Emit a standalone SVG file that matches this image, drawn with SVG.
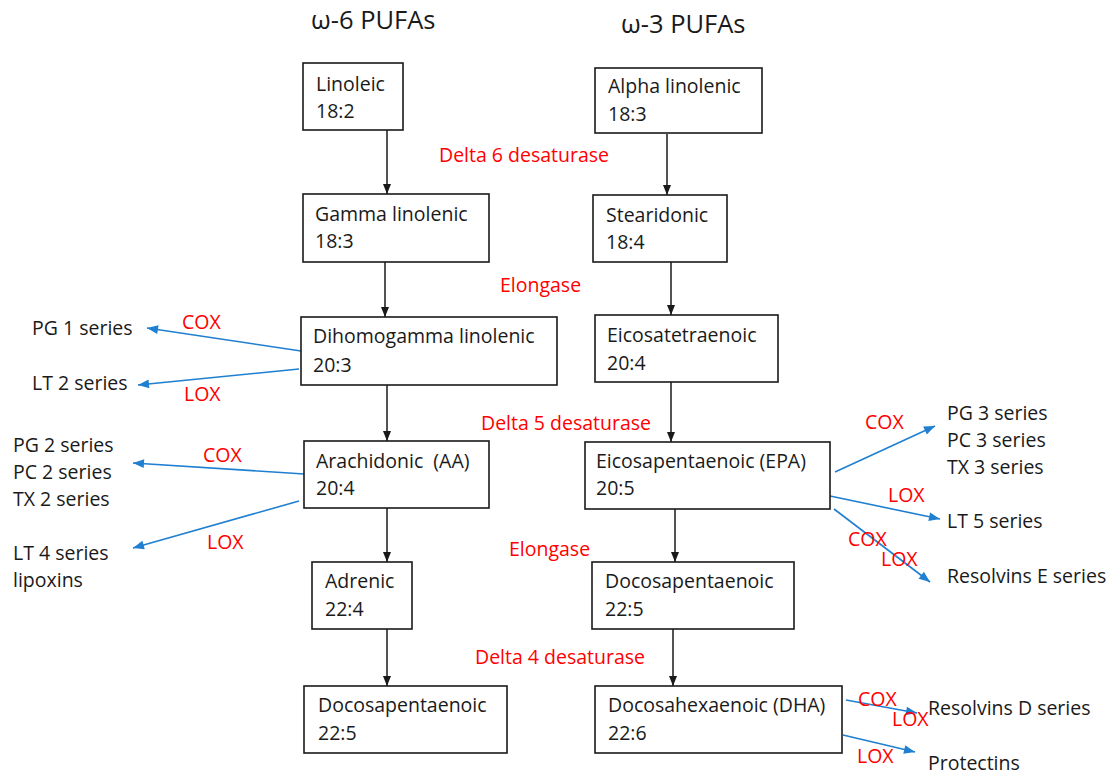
<svg xmlns="http://www.w3.org/2000/svg" width="1117" height="775" viewBox="0 0 1117 775">
<defs>
<style>
text{font-family:"Open Sans","Noto Sans",sans-serif;font-size:19.5px;fill:#1a1a1a}
.t{font-size:25.5px}
.r{fill:#ff0000}
rect{fill:#fff;stroke:#1a1a1a;stroke-width:1.6}
.k{stroke:#1a1a1a;stroke-width:1.5;fill:none;marker-end:url(#ak)}
.b{stroke:#1f7fd0;stroke-width:1.6;fill:none;marker-end:url(#ab)}
</style>
<marker id="ak" viewBox="0 0 10 10" refX="10" refY="5" markerWidth="10" markerHeight="10" markerUnits="userSpaceOnUse" orient="auto"><path d="M0,1 L10,5 L0,9 Z" fill="#1a1a1a"/></marker>
<marker id="ab" viewBox="0 0 10 10" refX="10" refY="5" markerWidth="12" markerHeight="11" markerUnits="userSpaceOnUse" orient="auto"><path d="M0,1 L10,5 L0,9 Z" fill="#1f7fd0"/></marker>
</defs>
<rect x="0" y="0" width="1117" height="775" style="stroke:none;fill:#fff"/>
<text class="t" x="311" y="29">ω-6 PUFAs</text>
<text class="t" x="621" y="33">ω-3 PUFAs</text>

<g id="connectors">
<line class="k" x1="387" y1="130" x2="387" y2="194"/>
<line class="k" x1="667" y1="134" x2="667" y2="195"/>
<line class="k" x1="385" y1="262" x2="385" y2="317"/>
<line class="k" x1="671" y1="262" x2="671" y2="315"/>
<line class="k" x1="387" y1="385" x2="387" y2="441"/>
<line class="k" x1="671" y1="382" x2="671" y2="442"/>
<line class="k" x1="387" y1="508" x2="387" y2="562"/>
<line class="k" x1="675" y1="509" x2="675" y2="562"/>
<line class="k" x1="387" y1="629" x2="387" y2="686"/>
<line class="k" x1="673" y1="629" x2="673" y2="686"/>
<line class="b" x1="301" y1="351" x2="147" y2="328"/>
<line class="b" x1="299" y1="369" x2="138" y2="385"/>
<line class="b" x1="304" y1="474" x2="133" y2="463"/>
<line class="b" x1="299" y1="501" x2="133" y2="548"/>
<line class="b" x1="835" y1="472" x2="935" y2="426"/>
<line class="b" x1="830" y1="496" x2="940" y2="519"/>
<line class="b" x1="834" y1="509" x2="930" y2="582"/>
<line class="b" x1="846" y1="700" x2="917" y2="713"/>
<line class="b" x1="843" y1="735" x2="915" y2="752"/>
</g>

<g id="enzymes">
<text class="r" x="439" y="162">Delta 6 desaturase</text>
<text class="r" x="500" y="292">Elongase</text>
<text class="r" x="481" y="430">Delta 5 desaturase</text>
<text class="r" x="509" y="556">Elongase</text>
<text class="r" x="475" y="664">Delta 4 desaturase</text>
<text class="r" x="182" y="329">COX</text>
<text class="r" x="184" y="401">LOX</text>
<text class="r" x="203" y="462">COX</text>
<text class="r" x="207" y="549">LOX</text>
<text class="r" x="865" y="429">COX</text>
<text class="r" x="888" y="502">LOX</text>
<text class="r" x="848" y="546">COX</text>
<text class="r" x="881" y="566">LOX</text>
<text class="r" x="858" y="706">COX</text>
<text class="r" x="892" y="726">LOX</text>
<text class="r" x="857" y="763">LOX</text>
</g>

<g id="products">
<text x="32" y="335">PG 1 series</text>
<text x="32" y="390">LT 2 series</text>
<text x="13" y="452">PG 2 series</text>
<text x="13" y="479">PC 2 series</text>
<text x="13" y="506">TX 2 series</text>
<text x="13" y="560">LT 4 series</text>
<text x="13" y="587">lipoxins</text>
<text x="947" y="420">PG 3 series</text>
<text x="947" y="447">PC 3 series</text>
<text x="947" y="474">TX 3 series</text>
<text x="947" y="528">LT 5 series</text>
<text x="947" y="583">Resolvins E series</text>
<text x="928" y="715">Resolvins D series</text>
<text x="928" y="770">Protectins</text>
</g>

<g id="linoleic"><rect x="303" y="63" width="100" height="67"/><text x="316" y="91">Linoleic</text><text x="316" y="118">18:2</text></g>
<g id="alpha-linolenic"><rect x="595" y="68" width="167" height="65"/><text x="608" y="93">Alpha linolenic</text><text x="608" y="121">18:3</text></g>
<g id="gamma-linolenic"><rect x="303" y="194" width="186" height="68"/><text x="315" y="221">Gamma linolenic</text><text x="315" y="248">18:3</text></g>
<g id="stearidonic"><rect x="593" y="195" width="134" height="67"/><text x="606" y="222">Stearidonic</text><text x="606" y="249">18:4</text></g>
<g id="dihomogamma"><rect x="301" y="317" width="256" height="68"/><text x="313" y="343">Dihomogamma linolenic</text><text x="313" y="372">20:3</text></g>
<g id="eicosatetraenoic"><rect x="595" y="315" width="183" height="67"/><text x="607" y="342">Eicosatetraenoic</text><text x="607" y="370">20:4</text></g>
<g id="arachidonic"><rect x="304" y="441" width="185" height="67"/><text x="316" y="468">Arachidonic&#160; (AA)</text><text x="316" y="495">20:4</text></g>
<g id="epa"><rect x="585" y="442" width="245" height="67"/><text x="596" y="468">Eicosapentaenoic (EPA)</text><text x="596" y="495">20:5</text></g>
<g id="adrenic"><rect x="312" y="562" width="100" height="67"/><text x="325" y="588">Adrenic</text><text x="325" y="616">22:4</text></g>
<g id="docosapentaenoic-3"><rect x="592" y="562" width="202" height="67"/><text x="605" y="588">Docosapentaenoic</text><text x="605" y="616">22:5</text></g>
<g id="docosapentaenoic-6"><rect x="304" y="686" width="203" height="67"/><text x="318" y="712">Docosapentaenoic</text><text x="318" y="740">22:5</text></g>
<g id="dha"><rect x="595" y="686" width="247" height="67"/><text x="608" y="712">Docosahexaenoic (DHA)</text><text x="608" y="740">22:6</text></g>
</svg>
